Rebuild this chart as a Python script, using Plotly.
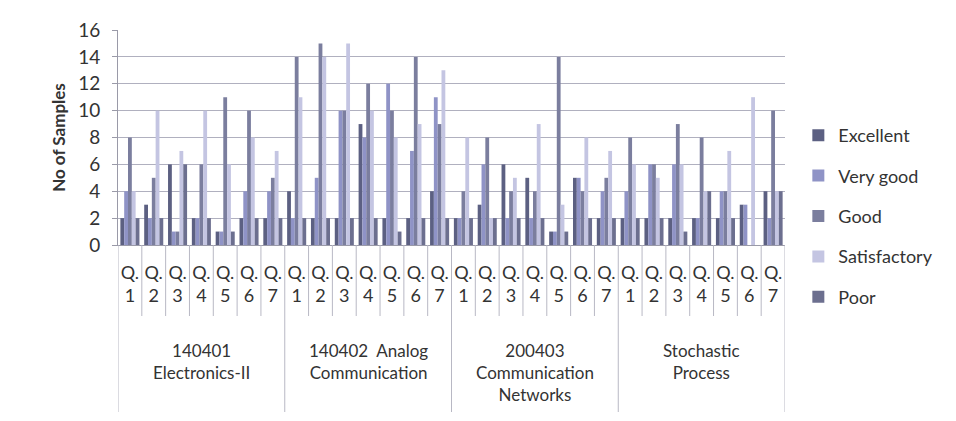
import plotly.graph_objects as go

courses = ["140401<br>Electronics-II", "140402  Analog<br>Communication",
           "200403<br>Communication<br>Networks", "Stochastic<br>Process"]
questions = ["1", "2", "3", "4", "5", "6", "7"]
series_names = ["Excellent", "Very good", "Good", "Satisfactory", "Poor"]

excellent    = [2, 3, 6, 2, 1, 2, 2,   4, 2, 2, 9, 2, 2, 4,   2, 3, 6, 5, 1, 5, 2,   2, 2, 2, 2, 2, 3, 4]
very_good    = [4, 2, 1, 2, 1, 4, 4,   2, 5, 10, 8, 12, 7, 11, 2, 6, 2, 2, 1, 5, 4,   4, 6, 6, 2, 4, 3, 2]
good         = [8, 5, 1, 6, 11, 10, 5, 14, 15, 10, 12, 10, 14, 9, 4, 8, 4, 4, 14, 4, 5,   8, 6, 9, 8, 4, 0, 10]
satisfactory = [4, 10, 7, 10, 6, 8, 7, 11, 14, 15, 10, 8, 9, 13, 8, 2, 5, 9, 3, 8, 7,   6, 5, 6, 4, 7, 11, 4]
poor         = [2, 2, 6, 2, 1, 2, 2,   2, 2, 2, 2, 1, 2, 2,   2, 2, 2, 2, 1, 2, 2,   2, 2, 1, 4, 2, 0, 4]

series_values = [excellent, very_good, good, satisfactory, poor]
colors = ["#5c6082", "#8f93c6", "#7b7e9e", "#c4c5e2", "#6c6f8f"]

n_q = len(questions)
x_idx = list(range(len(courses) * n_q))
tick_text = ["Q.<br>" + q for _ in courses for q in questions]

fig = go.Figure()
for name, vals, col in zip(series_names, series_values, colors):
    fig.add_trace(go.Bar(x=x_idx, y=vals, name=name, marker_color=col,
                         marker_line_width=0, legendgroup=name))

FONT = "Lato, Open Sans, sans-serif"
TXT = "#333333"
H_PLOT = 215.0

def py(Y):
    return (245 - Y) / H_PLOT

shapes = []
for i in range(len(x_idx) + 1):
    is_course = (i % n_q == 0)
    shapes.append(dict(type="line", xref="x", yref="paper", x0=i - 0.5, x1=i - 0.5,
                       y0=0, y1=py(412) if is_course else py(316),
                       line=dict(color="#b8b8c4", width=1)))

annotations = []
for c, label in enumerate(courses):
    annotations.append(dict(xref="x", yref="paper", x=c * n_q + (n_q - 1) / 2, y=py(338),
                            yanchor="top", xanchor="center", text=label, showarrow=False,
                            font=dict(family=FONT, size=17, color=TXT),
                            align="center"))

fig.update_layout(
    width=948, height=413,
    margin=dict(l=110, r=171, t=22, b=176, autoexpand=False),
    paper_bgcolor="white", plot_bgcolor="white",
    barmode="group", bargap=0.2, bargroupgap=0.0,
    font=dict(family=FONT, size=17, color=TXT),
    xaxis=dict(range=[-0.5, len(x_idx) - 0.5], tickmode="array", tickvals=x_idx,
               ticktext=tick_text, showgrid=False, zeroline=False, showline=True,
               linecolor="#9a9aa8", ticks="", ticklabelstandoff=11, automargin=False,
               tickfont=dict(size=18, family=FONT, color=TXT),
               tickangle=0),
    yaxis=dict(range=[0, 16], dtick=2, showgrid=True, gridcolor="#b0b0bf", gridwidth=1,
               zeroline=False, showline=True, linecolor="#9a9aa8", ticks="outside",
               ticklen=5, tickcolor="#9a9aa8", ticklabelstandoff=8, automargin=False,
               tickfont=dict(size=19, family=FONT, color=TXT),
               title=dict(text="<b>No of Samples</b>", font=dict(size=17, family=FONT, color=TXT),
                          standoff=8)),
    legend=dict(x=1.02, xanchor="left", y=py(216), yanchor="middle",
                font=dict(size=18, family=FONT, color=TXT),
                traceorder="grouped", tracegroupgap=14, itemwidth=30,
                bgcolor="rgba(0,0,0,0)"),
    shapes=shapes, annotations=annotations,
)

fig.write_html("out.html")
